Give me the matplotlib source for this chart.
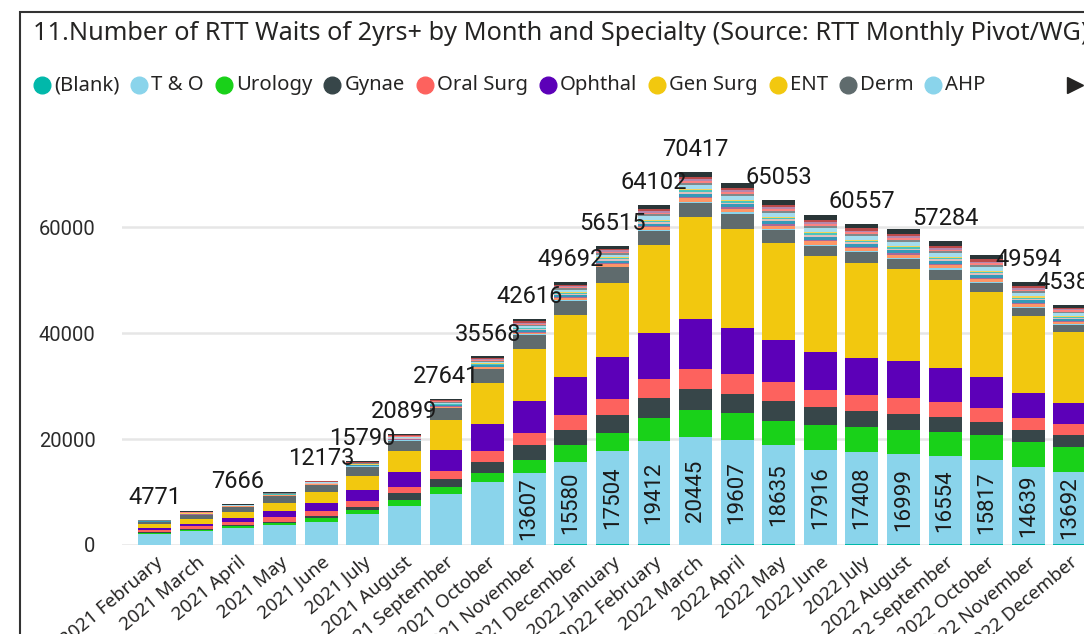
import matplotlib
matplotlib.use('Agg')
import numpy as np
import matplotlib.pyplot as plt
from matplotlib.lines import Line2D
from matplotlib.patches import Rectangle

W, H = 1084, 634

months = ['2021 February', '2021 March', '2021 April', '2021 May', '2021 June', '2021 July',
          '2021 August', '2021 September', '2021 October', '2021 November', '2021 December',
          '2022 January', '2022 February', '2022 March', '2022 April', '2022 May', '2022 June',
          '2022 July', '2022 August', '2022 September', '2022 October', '2022 November',
          '2022 December']

# stacked from the bottom, same order as the legend
blank = [0, 0, 0, 0, 0, 0, 0, 0, 0, 0, 150, 150, 150, 0, 150, 150, 0, 150, 150, 150, 150, 150, 150]
t_and_o = [2080, 2580, 3150, 3710, 4400, 5790, 7360, 9620, 11820, 13607, 15580, 17504, 19412,
           20445, 19607, 18635, 17916, 17408, 16999, 16554, 15817, 14639, 13692]
urology = [180, 250, 440, 380, 690, 750, 1130, 1320, 1710, 2430, 3080, 3450, 4400, 5000, 5100,
           4600, 4710, 4650, 4530, 4650, 4780, 4590, 4600]
gynae = [190, 250, 250, 310, 380, 570, 1260, 1450, 2190, 2770, 2890, 3400, 3710, 3910, 3720,
         3770, 3460, 3080, 2960, 2830, 2390, 2330, 2270]
oral_surg = [380, 510, 500, 880, 890, 1130, 1190, 1640, 2020, 2260, 2900, 3020, 3650, 3770, 3770,
             3530, 3150, 3080, 3020, 2890, 2640, 2200, 2130]
ophthal = [380, 370, 690, 1080, 1510, 2080, 2770, 3900, 5090, 6100, 7170, 7920, 8680, 9440, 8680,
           7980, 7110, 6920, 7040, 6360, 5850, 4840, 3900]
gen_surg = [340, 400, 540, 710, 930, 1220, 1810, 2520, 3460, 4420, 5270, 6290, 7440, 8660, 8410,
            8210, 8150, 8070, 7790, 7500, 7220, 6510, 6030]
ent = [410, 480, 660, 860, 1140, 1480, 2220, 3080, 4220, 5400, 6430, 7680, 9100, 10580, 10270,
       10040, 9960, 9860, 9510, 9160, 8820, 7960, 7370]
derm = [380, 760, 1000, 1320, 1380, 1760, 1950, 2260, 2700, 2640, 2580, 2950, 2640, 2770, 2830,
        2510, 2010, 2010, 1890, 1890, 1700, 1450, 1380]
ahp = [20, 30, 20, 30, 30, 40, 50, 70, 90, 120, 150, 170, 200, 230, 230, 230, 230, 210, 230, 210,
       210, 200, 150]

# specialties hidden behind the legend scroll arrow (thin stripes on top)
other_1 = [50, 90, 50, 80, 90, 110, 130, 200, 260, 330, 400, 460, 540, 640, 630, 620, 640, 590, 620, 580, 590, 540, 430]
other_2 = [20, 40, 20, 40, 40, 50, 60, 90, 120, 150, 180, 210, 250, 290, 290, 280, 290, 270, 280, 270, 270, 250, 190]
other_3 = [40, 80, 40, 80, 90, 100, 120, 190, 240, 300, 360, 420, 490, 580, 570, 560, 580, 530, 570, 530, 540, 490, 390]
other_4 = [30, 50, 30, 40, 50, 60, 70, 110, 140, 180, 220, 250, 300, 350, 340, 340, 350, 320, 340, 320, 320, 300, 230]
other_5 = [20, 40, 20, 40, 40, 50, 60, 90, 120, 150, 180, 210, 250, 290, 290, 280, 290, 270, 280, 270, 270, 250, 190]
other_6 = [20, 30, 20, 30, 30, 40, 50, 70, 90, 120, 150, 170, 200, 230, 230, 230, 230, 210, 230, 210, 210, 200, 150]
other_7 = [60, 110, 60, 100, 110, 130, 160, 240, 310, 390, 470, 540, 640, 760, 740, 730, 750, 690, 740, 690, 700, 640, 500]
other_8 = [30, 60, 30, 50, 60, 70, 80, 130, 170, 210, 250, 290, 340, 410, 400, 390, 410, 370, 400, 370, 370, 340, 270]
other_9 = [30, 50, 30, 40, 50, 60, 70, 110, 140, 180, 220, 250, 300, 350, 340, 340, 350, 320, 340, 320, 320, 300, 230]
other_10 = [30, 50, 30, 50, 50, 60, 70, 110, 140, 180, 220, 250, 300, 350, 340, 340, 350, 320, 340, 320, 320, 300, 230]
other_11 = [30, 70, 30, 60, 70, 80, 100, 150, 190, 240, 290, 330, 390, 470, 460, 450, 460, 430, 450, 420, 430, 390, 310]
other_12 = [50, 120, 55, 110, 140, 160, 180, 290, 350, 440, 550, 600, 720, 890, 850, 840, 870, 800, 860, 790, 800, 720, 590]

totals = [4771, None, 7666, None, 12173, 15790, 20899, 27641, 35568, 42616, 49692, 56515, 64102,
          70417, None, 65053, None, 60557, None, 57284, None, 49594, 45385]

legend_series = [
    ('(Blank)', blank, '#01B8AA'),
    ('T & O', t_and_o, '#8AD4EB'),
    ('Urology', urology, '#19D119'),
    ('Gynae', gynae, '#374649'),
    ('Oral Surg', oral_surg, '#FD625E'),
    ('Ophthal', ophthal, '#5C00B8'),
    ('Gen Surg', gen_surg, '#F2C80F'),
    ('ENT', ent, '#F2C80F'),
    ('Derm', derm, '#5F6B6D'),
    ('AHP', ahp, '#8AD4EB'),
]
hidden_series = [
    (other_1, '#FE9666'), (other_2, '#A66999'), (other_3, '#3599B8'), (other_4, '#DFBFBF'),
    (other_5, '#4AC5BB'), (other_6, '#F4D25A'), (other_7, '#A4DDEE'), (other_8, '#7F898A'),
    (other_9, '#FB8281'), (other_10, '#B687AC'), (other_11, '#BB4A4A'), (other_12, '#293537'),
]

fig = plt.figure(figsize=(W / 100, H / 100), dpi=100)
ax = fig.add_axes([122 / W, (H - 545) / H, (W - 122) / W, (545 - 130) / H])

x = np.arange(len(months))
bottom = np.zeros(len(months))
for name, vals, col in legend_series:
    ax.bar(x, vals, 0.79, bottom=bottom, color=col, linewidth=0, zorder=3)
    bottom += np.array(vals)
for vals, col in hidden_series:
    ax.bar(x, vals, 0.79, bottom=bottom, color=col, linewidth=0, zorder=3)
    bottom += np.array(vals)

# totals above bars
for i, tot in enumerate(totals):
    if tot is None:
        continue
    ax.annotate(str(tot), (i, bottom[i]), xytext=(0, 11.5), textcoords='offset points',
                ha='center', va='baseline', fontsize=17, family='Roboto', color='#1a1a1a',
                zorder=5, annotation_clip=False)

# T & O values inside the light blue segment
for i, v in enumerate(t_and_o):
    if v > 12500:
        ax.text(i, blank[i] + v / 2, str(v), rotation=90, ha='center', va='center',
                fontsize=16, family='Roboto', color='#1a1a1a', zorder=5)

ax.set_xlim(-0.79, 22.34)
ax.set_ylim(0, 78310)
ax.set_yticks([0, 20000, 40000, 60000])
ax.set_yticklabels(['0', '20000', '40000', '60000'], family='Roboto', fontsize=14.5, color='#2b2b2b')
ax.set_xticks(x)
ax.set_xticklabels(months, rotation=40, ha='right', rotation_mode='anchor',
                   family='Noto Sans', fontsize=13.5, color='#252423')
ax.tick_params(axis='y', length=0, pad=19)
ax.tick_params(axis='x', length=0, pad=6)
ax.grid(axis='y', color='#E6E6E6', linewidth=1.8, zorder=0)
for s in ax.spines.values():
    s.set_visible(False)

# outer frame (right side runs off the picture)
fig.add_artist(Rectangle((20 / W, -0.1), 2, 1 - 12 / H + 0.1, transform=fig.transFigure,
                         fill=False, edgecolor='#333333', linewidth=1.5, clip_on=False))

fig.text(33 / W, 1 - 34 / H,
         '11.Number of RTT Waits of 2yrs+ by Month and Specialty (Source: RTT Monthly Pivot/WG)',
         family='Noto Sans', fontsize=18.2, color='#252423', va='center', ha='left')

# legend row
fig.canvas.draw()
renderer = fig.canvas.get_renderer()
ly = 1 - 85 / H
lx = 42
for name, vals, col in legend_series:
    fig.add_artist(Line2D([lx / W], [ly], marker='o', markersize=12, linestyle='none',
                          color=col, transform=fig.transFigure))
    t = fig.text((lx + 12) / W, ly, name, family='Noto Sans', fontsize=14.6, color='#252423',
                 va='center', ha='left')
    lx = t.get_window_extent(renderer).x1 + 20
fig.add_artist(Line2D([1075 / W], [ly], marker='>', markersize=11, linestyle='none',
                      color='#252423', transform=fig.transFigure))

fig.savefig('out.png', dpi=100)
